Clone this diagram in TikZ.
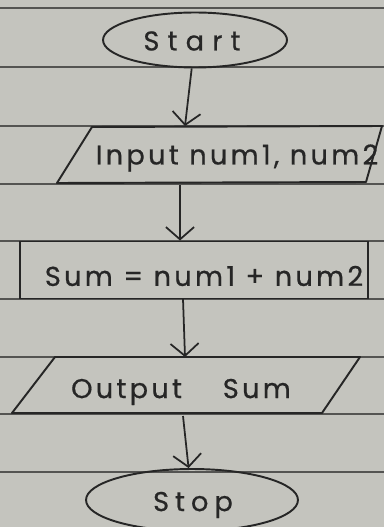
\documentclass[tikz,border=0pt]{standalone}
\usepackage{fontspec}
\newfontfamily\hand[LetterSpace=12,FakeBold=0.6]{Poppins}
\usepackage{tikz}
\usetikzlibrary{arrows.meta,shapes.geometric}
\definecolor{paper}{RGB}{196,196,190}
\definecolor{ruling}{RGB}{84,84,82}
\definecolor{ink}{RGB}{38,38,38}

\begin{document}
\begin{tikzpicture}[x=0.02cm,y=-0.02cm]
  \tikzset{terminal/.style = {shape=ellipse,draw=ink,line width=1.1pt,minimum width=3.68cm,minimum height=1.1cm}}
  \tikzset{process/.style = {shape=rectangle,draw=ink,line width=1.1pt,minimum width=6.96cm,minimum height=1.14cm}}
  \tikzset{io/.style = {draw=ink,line width=1.1pt,line join=round}}
  \tikzset{txt/.style = {text=ink,inner sep=0pt,font=\hand\fontsize{15.5}{17}\selectfont}}
  \tikzset{edge/.style = {draw=ink,line width=1pt,-{Straight Barb[length=7pt,width=16pt]}}}
  \tikzset{ruleline/.style = {draw=ruling,line width=0.8pt}}

  % paper
  \clip (0,0) rectangle (384,527);
  \fill[paper] (0,0) rectangle (384,527);
  \foreach \y in {8,67,126,184,241,299,357,414,472}
    \draw[ruleline] (0,\y) -- (384,\y);

  % shapes
  \node[terminal] (start) at (195,40) {};
  \node[txt] (starttxt) at (192,41) {\addfontfeatures{LetterSpace=30}Start};

  \draw[io] (92,127) -- (382,126) -- (366,182) -- (57,183) -- cycle;
  \node[txt] (input) at (237,158) {Input num1, num2};
  \coordinate (inN) at (185,126);
  \coordinate (inS) at (180,185);

  \node[process] (sum) at (194,270) {};
  \node[txt] (sumtxt) at (204,276) {Sum = num1 + num2};
  \coordinate (sumS) at (183,299);

  \draw[io] (55,357) -- (360,357) -- (322,413) -- (12,413) -- cycle;
  \node[txt] (output) at (181,392) {Output\hspace{1.5em}Sum};
  \coordinate (outN) at (185,357);
  \coordinate (outS) at (183,416);

  \node[terminal,minimum width=4.24cm,minimum height=1.24cm] (stop) at (192,500) {};
  \node[txt] (stoptxt) at (193,505) {\addfontfeatures{LetterSpace=22}Stop};

  % arrows
  \draw[edge] (start) -- (inN);
  \draw[edge] (inS) -- (inS |- sum.north);
  \draw[edge] (sumS) -- (outN);
  \draw[edge] (outS) -- (stop);
\end{tikzpicture}
\end{document}
